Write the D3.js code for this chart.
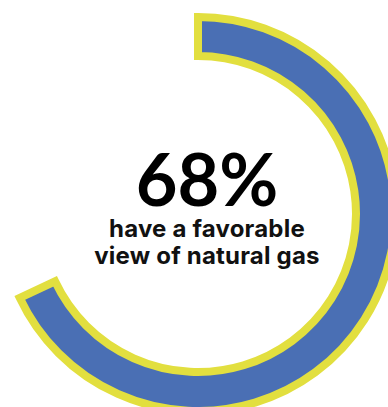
<!DOCTYPE html>
<html>
<head>
<meta charset="utf-8">
<script src="https://cdn.jsdelivr.net/npm/d3@7"></script>
<style>
  html, body { margin: 0; padding: 0; background: #ffffff; }
  svg { display: block; }
</style>
</head>
<body>
<svg id="chart" width="388" height="407"></svg>
<script>
// Share of people with a favorable view
const share = [68];
const headline = ["68%"];
const caption = ["have a favorable", "view of natural gas"];

const width = 388, height = 407;
const cx = 198, cy = 214;
const outerR = 197, innerR = 158;

const svg = d3.select("#chart");

const angle = d3.scaleLinear().domain([0, 100]).range([0, 2 * Math.PI]);

const arc = d3.arc()
  .innerRadius(innerR)
  .outerRadius(outerR)
  .startAngle(0)
  .endAngle(d => angle(d));

const g = svg.append("g").attr("transform", `translate(${cx},${cy})`);

g.selectAll("path.ring")
  .data(share)
  .join("path")
  .attr("class", "ring")
  .attr("d", arc)
  .attr("fill", "#4a6fb4")
  .attr("stroke", "#e2df3f")
  .attr("stroke-width", 8)
  .attr("stroke-linejoin", "miter");

// Centre label
const tx = 207;
svg.append("text")
  .attr("x", tx)
  .attr("y", 206)
  .attr("text-anchor", "middle")
  .attr("font-family", "Lato, sans-serif")
  .attr("font-weight", 700)
  .attr("font-size", 72)
  .attr("fill", "#000")
  .text(headline[0]);

svg.selectAll("text.caption")
  .data(caption)
  .join("text")
  .attr("class", "caption")
  .attr("x", tx)
  .attr("y", (d, i) => 237 + i * 27)
  .attr("text-anchor", "middle")
  .attr("font-family", "Inter, sans-serif")
  .attr("font-weight", 700)
  .attr("font-size", 24)
  .attr("letter-spacing", 0.2)
  .attr("fill", "#111")
  .text(d => d);
</script>
</body>
</html>
